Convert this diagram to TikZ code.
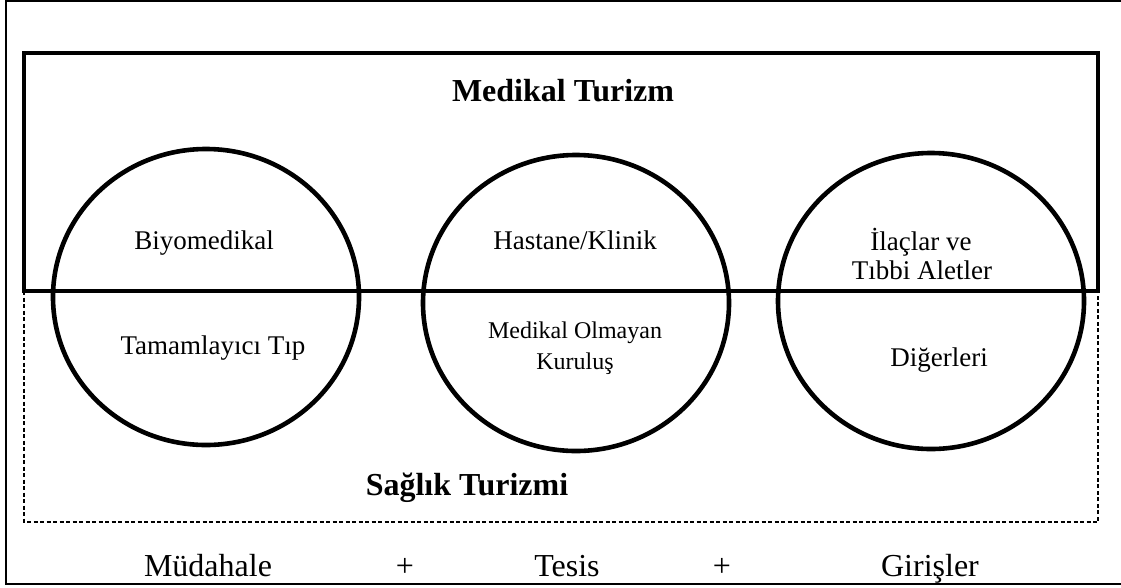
\documentclass[tikz,border=0pt]{standalone}
\usepackage{fontspec}
\setmainfont{Liberation Serif}
\usetikzlibrary{shapes.geometric}
\begin{document}
\begin{tikzpicture}[x=1pt,y=-1pt,
  frame/.style={line width=2pt},
  mainbox/.style={line width=3.6pt},
  outerbox/.style={line width=1.4pt,dash pattern=on 4pt off 2.5pt},
  field/.style={draw,ellipse,line width=4.6pt,minimum width=306pt,minimum height=296pt,inner sep=0pt},
  title/.style={font=\fontsize{32}{34}\selectfont\bfseries,anchor=base,inner sep=0pt},
  label/.style={font=\fontsize{27}{30}\selectfont,anchor=base,inner sep=0pt},
  small/.style={font=\fontsize{24}{28}\selectfont,anchor=base,inner sep=0pt},
  formula/.style={font=\fontsize{32}{34}\selectfont,anchor=base,inner sep=0pt}]
\useasboundingbox (0,0) rectangle (1121,587);
% page frame
\draw[frame] (1121,1) -- (6,1) -- (6,584) -- (1121,584);
% medical tourism (solid) and health tourism (dashed)
\draw[outerbox] (24,291) -- (24,522) -- (1098,522) -- (1098,291);
\draw[mainbox] (24,291) rectangle (1098,53);
% the three fields
\node[field] (f1) at (206,297) {};
\node[field] (f2) at (576,303) {};
\node[field] (f3) at (931,301) {};
% titles
\node[title] (mt) at (563,101) {Medikal Turizm};
\node[title] (st) at (467,495) {Sağlık Turizmi};
% upper half labels
\node[label] (bio) at (204,249) {Biyomedikal};
\node[label] (has) at (575,249) {Hastane/Klinik};
\node[label] (ila1) at (921,250) {İlaçlar ve};
\node[label] (ila2) at (922,279) {Tıbbi Aletler};
% lower half labels
\node[label] (tam) at (213,354) {Tamamlayıcı Tıp};
\node[small] (med1) at (575,338) {Medikal Olmayan};
\node[small] (med2) at (575,369) {Kuruluş};
\node[label] (dig) at (939,366) {Diğerleri};
% bottom formula
\node[formula] (mud) at (208,576) {Müdahale};
\node[formula] (p1) at (405,576) {+};
\node[formula] (tes) at (567,576) {Tesis};
\node[formula] (p2) at (722,576) {+};
\node[formula] (gir) at (930,576) {Girişler};
\end{tikzpicture}
\end{document}
